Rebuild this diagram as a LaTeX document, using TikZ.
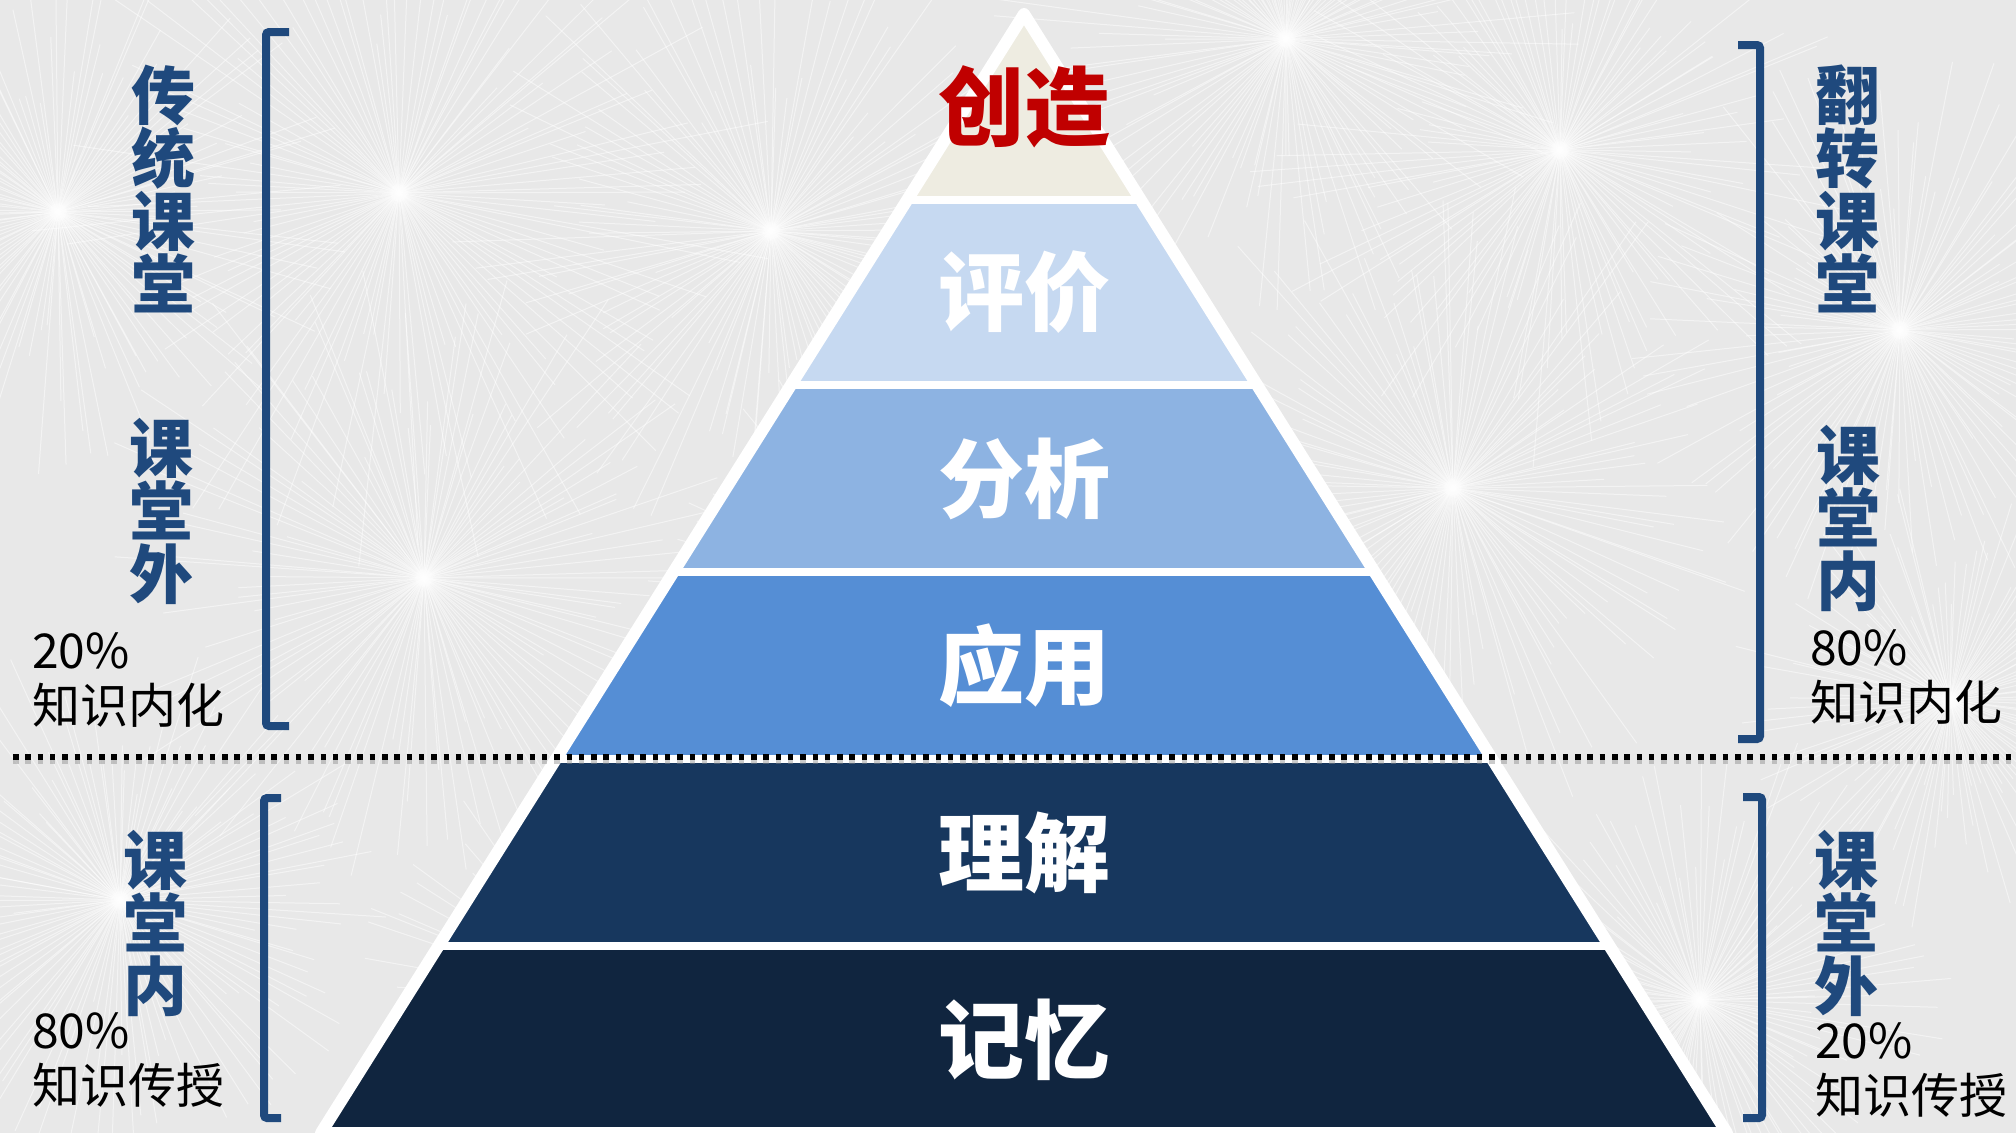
\documentclass[tikz,border=0pt]{standalone}
\usepackage{fontspec}
\setmainfont{Noto Sans CJK SC}
\usetikzlibrary{calc}
\definecolor{bgc}{HTML}{E8E8E8}
\definecolor{brd}{HTML}{1F497D}
\definecolor{tA}{HTML}{EEECE1}
\definecolor{tB}{HTML}{C6D9F1}
\definecolor{tC}{HTML}{8DB3E2}
\definecolor{tD}{HTML}{558ED5}
\definecolor{tE}{HTML}{17375E}
\definecolor{tF}{HTML}{10253F}
\definecolor{redt}{HTML}{C00000}
\begin{document}
\begin{tikzpicture}[x=1pt,y=-1pt,
  vlab/.style={text=brd, font=\bfseries\fontsize{64}{63}\selectfont, align=center, inner sep=0},
  pct/.style={text=black, font=\fontsize{48}{55}\selectfont, align=left, anchor=west, inner sep=0},
  tiertxt/.style={font=\bfseries\fontsize{86}{86}\selectfont, text=white, inner sep=0},
  brk/.style={draw=brd, line width=8, rounded corners=3},
  ray/.style={white, line width=1, opacity=0.5},
  dotline/.style={black, line width=5.5, dash pattern=on 5.5 off 6.8}]
\useasboundingbox (0,0) rectangle (2016,1133);
\clip (0,0) rectangle (2016,1133);
% background
\fill[bgc] (0,0) rectangle (2016,1133);
\pgfmathsetseed{7}
\foreach \cx/\cy/\rad in {399/193/260, 771/231/220, 424/578/240, 58/212/200, 1453/488/230, 1286/39/210, 1560/150/220, 1900/330/200, 120/900/190, 1700/1000/190, 900/600/180, 600/1000/170, 1200/900/170, 1950/700/160}{
  \coordinate (sb) at (\cx,\cy);
  \foreach \a in {0,3,...,357}{
    \pgfmathsetmacro{\ang}{\a+1.5*rand}
    \pgfmathsetmacro{\len}{\rad+0.45*\rad*rand}
    \draw[ray] (sb) -- ++(\ang:\len);
  }
  \fill[white, opacity=0.25] (sb) circle (9);
}
% pyramid
\coordinate (apex) at (1024,14);
\coordinate (bl) at (321,1133);
\coordinate (br) at (1727,1133);
\fill[white] (apex) -- (bl) -- (br) -- cycle;
\begin{scope}
  \clip (apex) -- (bl) -- (br) -- cycle;
  \foreach \t/\b/\c in {0/199.5/tA, 199.5/385/tB, 385/572/tC, 572/759/tD, 759/946/tE, 946/1140/tF}{
    \fill[\c] (0,\t) rectangle (2016,\b);
  }
  \foreach \g in {199.5,385,572,759,946}{
    \draw[white, line width=8] (0,\g) -- (2016,\g);
  }
\end{scope}
\draw[white, line width=12, line join=round] (apex) -- (bl) -- (br) -- cycle;
\node[tiertxt, text=redt] (create) at (1024,107) {创造};
\node[tiertxt] (evaluate) at (1024,292) {评价};
\node[tiertxt] (analyse) at (1024,479) {分析};
\node[tiertxt] (apply) at (1024,666) {应用};
\node[tiertxt] (understand) at (1024,853) {理解};
\node[tiertxt] (remember) at (1024,1040) {记忆};
% dotted separator
\coordinate (dl) at (13,757);
\coordinate (dr) at (2016,757);
\draw[dotline, black!45, opacity=0.45, line width=6.5] ($(dl)+(0,4)$) -- ($(dr)+(0,4)$);
\draw[dotline] (dl) -- (dr);
% brackets
\coordinate (lt1) at (289,32); \coordinate (lt2) at (266,32);
\coordinate (lt3) at (266,726); \coordinate (lt4) at (289,726);
\draw[brk] (lt1) -- (lt2) -- (lt3) -- (lt4);
\coordinate (rt1) at (1738,45); \coordinate (rt2) at (1760,45);
\coordinate (rt3) at (1760,739); \coordinate (rt4) at (1738,739);
\draw[brk] (rt1) -- (rt2) -- (rt3) -- (rt4);
\coordinate (lb1) at (281,798); \coordinate (lb2) at (264,798);
\coordinate (lb3) at (264,1118); \coordinate (lb4) at (281,1118);
\draw[brk] (lb1) -- (lb2) -- (lb3) -- (lb4);
\coordinate (rb1) at (1743,797); \coordinate (rb2) at (1762,797);
\coordinate (rb3) at (1762,1118); \coordinate (rb4) at (1743,1118);
\draw[brk] (rb1) -- (rb2) -- (rb3) -- (rb4);
% labels left
\node[vlab] (ltrad) at (163,189) {传\\统\\课\\堂};
\node[vlab] (lout) at (161,511) {课\\堂\\外};
\node[pct] (lpct1) at (32,680) {20\%\\知识内化};
\node[vlab] (lin) at (155,923) {课\\堂\\内};
\node[pct] (lpct2) at (32,1060) {80\%\\知识传授};
% labels right
\node[vlab] (rflip) at (1847,189) {翻\\转\\课\\堂};
\node[vlab] (rin) at (1848,518) {课\\堂\\内};
\node[pct] (rpct1) at (1810,677) {80\%\\知识内化};
\node[vlab] (rout) at (1846,923) {课\\堂\\外};
\node[pct] (rpct2) at (1815,1070) {20\%\\知识传授};
\end{tikzpicture}
\end{document}
